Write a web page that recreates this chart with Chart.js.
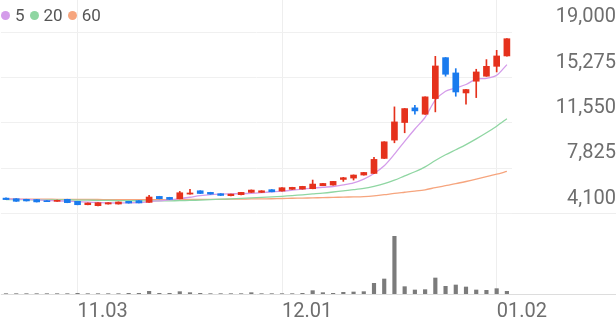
<!DOCTYPE html>
<html>
<head>
<meta charset="utf-8">
<script src="https://cdn.jsdelivr.net/npm/chart.js@4.4.1/dist/chart.umd.min.js"></script>
<style>
  html, body { margin: 0; padding: 0; background: #fff; }
  #wrap { position: relative; width: 616px; height: 321px; }
  #legend { position: absolute; left: 1px; top: 5px; font: 17px Roboto, sans-serif; color: #555; display: flex; align-items: center; }
  #legend span.dot { display: inline-block; width: 9px; height: 9px; border-radius: 50%; margin-right: 5px; }
  #legend span.txt { margin-right: 5px; }
</style>
</head>
<body>
<div id="wrap">
  <canvas id="stock"></canvas>
  <div id="legend"></div>
</div>
<script>
// 일봉 데이터 (화면에서 읽은 값)
const dates = ['10.23','10.24','10.27','10.28','10.29','10.30','10.31','11.03','11.04','11.05',
  '11.06','11.07','11.10','11.11','11.12','11.13','11.14','11.17','11.18','11.19',
  '11.20','11.21','11.24','11.25','11.26','11.27','11.28','12.01','12.02','12.03',
  '12.04','12.05','12.08','12.09','12.10','12.11','12.12','12.15','12.16','12.17',
  '12.18','12.19','12.22','12.23','12.24','12.26','12.29','12.30','01.02','01.05'];
const tickDates = ['11.03', '12.01', '01.02'];

const opens = [5400,5350,5300,5280,5190,5135,5300,5135,4860,4780,
  4917,4917,5135,5190,5050,5540,5460,5350,5730,6000,
  5870,5760,5600,5680,5870,5870,6090,5980,6120,6140,
  6170,6420,6470,6930,7040,7290,7420,8650,10150,11590,
  12790,12270,13550,16900,15650,14010,14970,15380,16190,17040];
const closes = [5280,5140,5170,5090,5110,5217,5030,4860,5000,5026,
  5026,5080,5000,5010,5490,5350,5300,5840,5820,5780,
  5730,5620,5730,5870,6060,6000,5920,6250,6280,6360,
  6550,6600,6770,7070,7290,7500,8570,10010,11640,12730,
  12540,13690,16220,15540,14090,14290,15730,16190,17040,18450];
const highs = [5420,5360,5310,5290,5200,5230,5310,5140,5010,5030,
  5030,5090,5140,5200,5620,5550,5470,5950,6110,6010,
  5880,5770,5740,5880,6070,6010,6100,6260,6290,6370,
  6880,6610,6780,7100,7300,7510,8730,10020,12870,12740,
  13000,13700,17010,16910,16000,14300,15950,16740,17500,18460];
const lows = [5270,5130,5160,5080,5100,5120,5020,4850,4850,4770,
  4910,4910,4990,5000,5040,5340,5290,5340,5720,5770,
  5720,5610,5590,5670,5860,5860,5910,5970,6110,6130,
  6160,6410,6460,6770,6880,7280,7410,8640,9930,10750,
  12270,12260,12460,15380,13740,13090,13630,15370,15730,17030];
// 거래량 (천주)
const volumes = [10,10,10,10,10,10,10,20,10,10,
  10,10,20,20,80,20,20,70,40,20,
  10,10,10,10,40,10,10,10,10,20,
  100,40,20,50,60,70,320,450,1730,220,
  120,130,480,230,270,210,120,110,160,80];

// 이동평균선
const ma5 = [5330,5310,5290,5260,5220,5180,5150,5110,5070,5040,
  5010,5000,5020,5030,5110,5180,5250,5350,5470,5600,
  5690,5730,5750,5770,5800,5850,5910,5970,6050,6130,
  6220,6290,6350,6480,6650,6960,7420,8050,9000,10050,
  11060,12020,13420,14150,14420,14700,15150,15200,15460,16330];
const ma20 = [5280,5275,5270,5265,5260,5255,5250,5240,5230,5220,
  5210,5200,5190,5180,5180,5180,5180,5190,5210,5240,
  5280,5310,5340,5380,5420,5460,5500,5550,5610,5670,
  5740,5810,5900,6000,6090,6200,6370,6580,6870,7220,
  7560,7960,8480,8950,9360,9780,10250,10750,11290,11900];
const ma60 = [5330,5325,5320,5315,5310,5305,5300,5295,5290,5285,
  5280,5280,5275,5275,5275,5275,5280,5280,5285,5290,
  5300,5305,5310,5320,5330,5340,5350,5370,5390,5400,
  5420,5440,5460,5480,5500,5530,5590,5680,5790,5880,
  5970,6080,6260,6420,6580,6760,6950,7150,7360,7590];

const yTicks = [4100, 7825, 11550, 15275, 19000];
const maPeriods = ['5', '20', '60'];

const UP = '#e5311c';
const DOWN = '#1a7bee';
const MA_COLORS = ['#d49cea', '#8fd6a2', '#f6a57e'];
const PRICE_MIN = -2450;
const PRICE_MAX = 21620;
const AXIS_FONT = { family: 'Roboto', size: 20 };
const AXIS_W = 104;

const candleColors = opens.map((o, i) => closes[i] >= o ? UP : DOWN);
const fmt = v => v.toLocaleString('en-US');

// 오른쪽 축 라벨을 오른쪽 끝에 맞추기 위한 폭 계산
const mctx = document.createElement('canvas').getContext('2d');
mctx.font = `${AXIS_FONT.size}px ${AXIS_FONT.family}`;
const widest = Math.max(...yTicks.map(v => mctx.measureText(fmt(v)).width));

// 범례
const legend = document.getElementById('legend');
maPeriods.forEach((p, i) => {
  legend.innerHTML += `<span class="dot" style="background:${MA_COLORS[i]}"></span><span class="txt">${p}</span>`;
});

const maLine = (data, color) => ({
  type: 'line',
  data,
  yAxisID: 'y',
  borderColor: color,
  borderWidth: 1.3,
  pointRadius: 0,
  tension: 0.3,
  order: 3
});

new Chart(document.getElementById('stock'), {
  data: {
    labels: dates,
    datasets: [
      maLine(ma5, MA_COLORS[0]),
      maLine(ma20, MA_COLORS[1]),
      maLine(ma60, MA_COLORS[2]),
      {
        type: 'bar',
        data: lows.map((l, i) => [l, highs[i]]),
        yAxisID: 'y',
        backgroundColor: candleColors,
        barThickness: 1,
        grouped: false,
        borderSkipped: false,
        order: 1
      },
      {
        type: 'bar',
        data: opens.map((o, i) => [o, closes[i]]),
        yAxisID: 'y',
        backgroundColor: candleColors,
        barThickness: 6,
        grouped: false,
        borderSkipped: false,
        order: 0
      },
      {
        type: 'bar',
        data: volumes,
        yAxisID: 'yv',
        backgroundColor: '#7b7b7b',
        barThickness: 3.5,
        grouped: false,
        order: 2
      }
    ]
  },
  options: {
    responsive: true,
    maintainAspectRatio: false,
    animation: false,
    layout: { padding: 0 },
    plugins: { legend: { display: false }, tooltip: { enabled: false } },
    scales: {
      x: {
        type: 'category',
        offset: true,
        border: { display: false },
        grid: {
          offset: false,
          drawTicks: false,
          color: ctx => tickDates.includes(dates[ctx.index]) ? '#eeeeee' : 'rgba(0,0,0,0)'
        },
        ticks: {
          autoSkip: false,
          maxRotation: 0,
          align: 'start',
          padding: 6,
          color: '#6e6e6e',
          font: AXIS_FONT,
          callback: (v, i) => tickDates.includes(dates[i]) ? dates[i] : ''
        },
        afterFit: s => { s.height = 27; }
      },
      y: {
        position: 'right',
        min: PRICE_MIN,
        max: PRICE_MAX,
        border: { display: false },
        afterBuildTicks: s => { s.ticks = [PRICE_MIN, ...yTicks].map(v => ({ value: v })); },
        afterFit: s => { s.width = AXIS_W; },
        grid: {
          drawTicks: true,
          tickLength: AXIS_W,
          color: ctx => ctx.tick.value === PRICE_MIN ? '#dddddd' : '#f0f0f0',
          tickColor: ctx => ctx.tick.value === PRICE_MIN ? '#dddddd' :
            ctx.tick.value === yTicks[0] ? '#eeeeee' : 'rgba(0,0,0,0)'
        },
        ticks: {
          crossAlign: 'far',
          padding: -5 - widest,
          labelOffset: -15,
          color: '#6e6e6e',
          font: AXIS_FONT,
          callback: v => v === PRICE_MIN ? '' : fmt(v)
        }
      },
      yv: {
        display: false,
        min: 0,
        max: 8820
      }
    }
  }
});
</script>
</body>
</html>
